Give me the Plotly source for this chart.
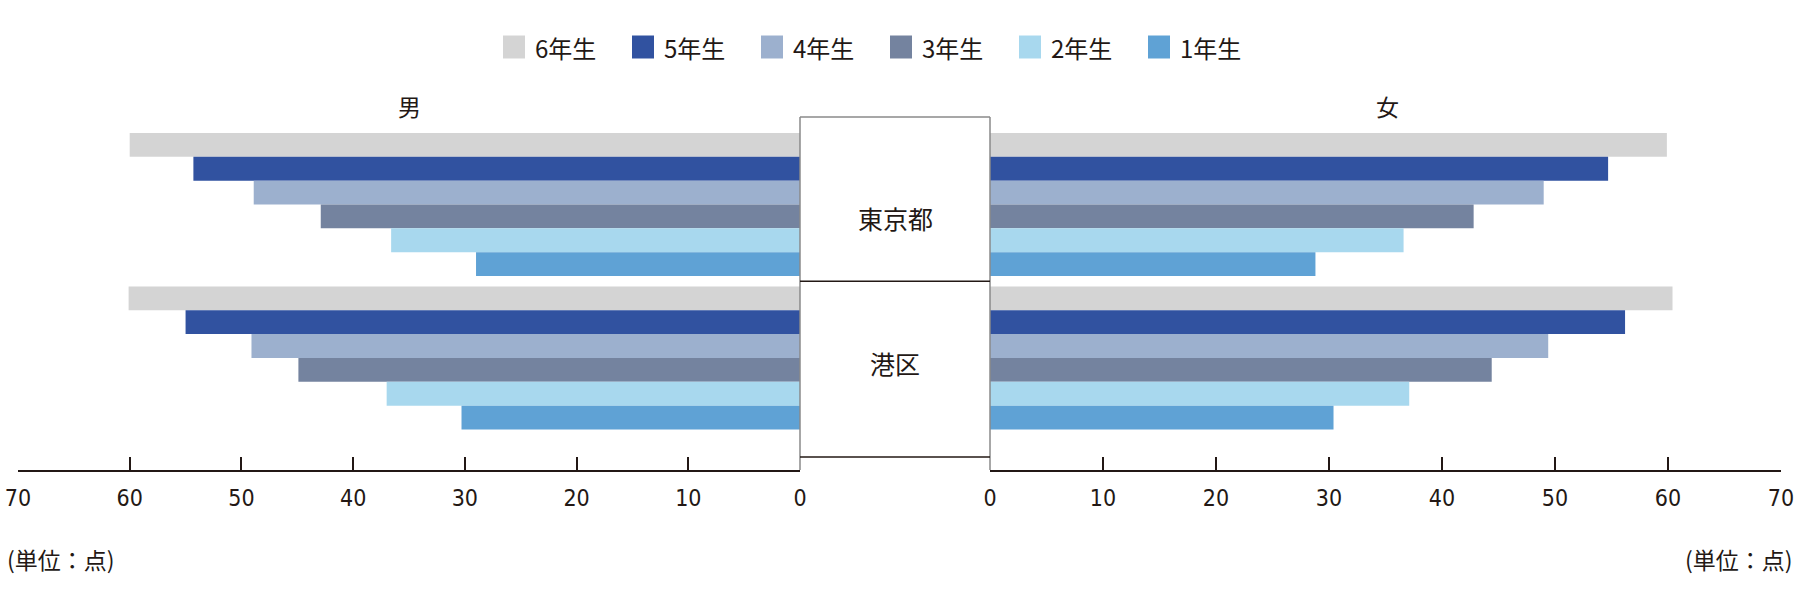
import plotly.graph_objects as go

# ---- data ----
regions = ["東京都", "港区"]
grades = ["6年生", "5年生", "4年生", "3年生", "2年生", "1年生"]
colors = ["#d4d4d4", "#3152a0", "#9cb0ce", "#74839f", "#a8d8ee", "#5fa2d5"]
# values per grade: [東京都, 港区]
male = {
    "6年生": [60.0, 60.1],
    "5年生": [54.3, 55.0],
    "4年生": [48.9, 49.1],
    "3年生": [42.9, 44.9],
    "2年生": [36.6, 37.0],
    "1年生": [29.0, 30.3],
}
female = {
    "6年生": [59.9, 60.4],
    "5年生": [54.7, 56.2],
    "4年生": [49.0, 49.4],
    "3年生": [42.8, 44.4],
    "2年生": [36.6, 37.1],
    "1年生": [28.8, 30.4],
}
tick_vals = [0, 10, 20, 30, 40, 50, 60, 70]
side_labels = ["男", "女"]
unit_label = "(単位：点)"

# ---- layout geometry (pixels) ----
W, H = 1800, 598
PL, PR, PT, PB = 18, 1781, 117, 470
pw, ph = PR - PL, PB - PT


def px(x):
    return (x - PL) / pw


def py(y):
    return (PB - y) / ph


LEFT_END, RIGHT_START = 800, 990
DARK = "#231815"
NUM_FONT = "DejaVu Sans Condensed, Liberation Sans Narrow, Roboto Condensed, DejaVu Sans"
CJK_FONT = "Noto Sans CJK JP"

fig = go.Figure()
for g, c in zip(grades, colors):
    fig.add_trace(go.Bar(y=regions, x=male[g], orientation="h", name=g,
                         marker=dict(color=c, line=dict(width=0)),
                         xaxis="x", yaxis="y", showlegend=False))
for g, c in zip(grades, colors):
    fig.add_trace(go.Bar(y=regions, x=female[g], orientation="h", name=g,
                         marker=dict(color=c, line=dict(width=0)),
                         xaxis="x2", yaxis="y", showlegend=False))

axis_common = dict(
    tickvals=tick_vals, ticks="inside", ticklen=13, tickwidth=1.5, tickcolor=DARK,
    showline=True, linecolor=DARK, linewidth=2, showgrid=False, zeroline=False,
    tickfont=dict(family=NUM_FONT, size=23, color=DARK), anchor="y",
    ticklabelstandoff=6, automargin=False,
)

shapes = []
annotations = []


def ann(text, x, y, size, xanchor="center", family=CJK_FONT):
    annotations.append(dict(text=text, xref="paper", yref="paper", x=px(x), y=py(y),
                            xanchor=xanchor, yanchor="middle", showarrow=False,
                            font=dict(family=family, size=size, color=DARK)))


# centre box
bx0, bx1 = px(LEFT_END), px(RIGHT_START)
for xx in (bx0, bx1):
    shapes.append(dict(type="line", xref="paper", yref="paper", x0=xx, x1=xx, y0=0, y1=1,
                       line=dict(color="#8a8a8a", width=1.5)))
shapes.append(dict(type="line", xref="paper", yref="paper", x0=bx0, x1=bx1, y0=1, y1=1,
                   line=dict(color="#8a8a8a", width=1.5)))
shapes.append(dict(type="line", xref="paper", yref="y", x0=bx0, x1=bx1, y0=0.5, y1=0.5,
                   line=dict(color=DARK, width=1.5)))
shapes.append(dict(type="line", xref="paper", yref="paper", x0=bx0, x1=bx1,
                   y0=py(457), y1=py(457), line=dict(color=DARK, width=1.5)))

# region labels in the box
for name, yy in zip(regions, (218, 363)):
    ann(name, 895, yy, 25)
# side labels
for name, xx in zip(side_labels, (409, 1387)):
    ann(name, xx, 106, 23)
# unit labels
ann(unit_label, 5, 559, 23, xanchor="left")
ann(unit_label, 1795, 559, 23, xanchor="right")
# legend (drawn manually for square swatches)
for i, (g, c) in enumerate(zip(grades, colors)):
    cx = 514 + 129 * i
    shapes.append(dict(type="rect", xref="paper", yref="paper",
                       x0=px(cx - 11), x1=px(cx + 11), y0=py(58.5), y1=py(35.5),
                       fillcolor=c, line=dict(width=0)))
    ann(g, cx + 19, 47, 24, xanchor="left")

fig.update_layout(
    width=W, height=H,
    margin=dict(l=PL, r=W - PR, t=PT, b=H - PB, pad=0, autoexpand=False),
    paper_bgcolor="white", plot_bgcolor="white",
    barmode="group", bargap=0.068, bargroupgap=0,
    showlegend=False,
    xaxis=dict(domain=[0, px(LEFT_END)], range=[70, 0], **axis_common),
    xaxis2=dict(domain=[px(RIGHT_START), 1], range=[0, 70], **axis_common),
    yaxis=dict(range=[1.730, -0.570], visible=False, categoryorder="array",
               categoryarray=regions, automargin=False),
    shapes=shapes, annotations=annotations,
)

fig.write_html("out.html", config={"displayModeBar": False},
               post_script="document.body.style.margin='0';")
